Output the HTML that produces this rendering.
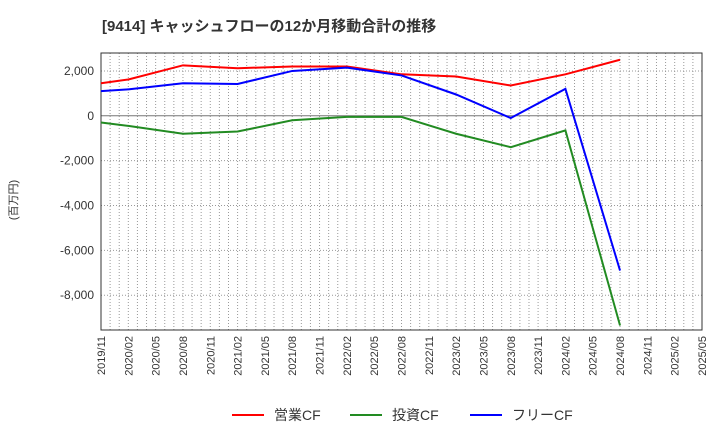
<!DOCTYPE html>
<html><head><meta charset="utf-8"><style>
body{margin:0;background:#fff;font-family:"Liberation Sans","Noto Sans CJK JP",sans-serif;}
svg text{font-family:"Liberation Sans","Noto Sans CJK JP",sans-serif;}
</style></head><body>
<svg id="c" width="720" height="440">
<text x="102" y="31" font-size="15" font-weight="bold" fill="#333">[9414]  キャッシュフローの12か月移動合計の推移</text>
<text transform="translate(17,200) rotate(-90)" text-anchor="middle" font-size="11" fill="#333">(百万円)</text>
</svg>
<script>
const xLabels=["2019/11","2020/02","2020/05","2020/08","2020/11","2021/02","2021/05","2021/08","2021/11","2022/02","2022/05","2022/08","2022/11","2023/02","2023/05","2023/08","2023/11","2024/02","2024/05","2024/08","2024/11","2025/02","2025/05"];
const yTicks=[2000,0,-2000,-4000,-6000,-8000];
const pointIdx=[0,1,3,5,7,9,11,13,15,17,19];
const opCF=[1450,1620,2250,2120,2200,2200,1850,1750,1350,1850,2500];
const invCF=[-300,-450,-800,-700,-200,-50,-50,-800,-1400,-650,-9350];
const freeCF=[1100,1180,1450,1420,2000,2150,1800,950,-100,1200,-6900];
const L=101,R=702,T=53,B=330,yMax=2800,yMin=-9550;
const svg=document.getElementById('c');const NS="http://www.w3.org/2000/svg";
function X(q){return L+(R-L)*q/(xLabels.length-1);}
function Y(v){return T+(B-T)*(yMax-v)/(yMax-yMin);}
function mk(t,a){const e=document.createElementNS(NS,t);for(const k in a)e.setAttribute(k,a[k]);svg.appendChild(e);return e;}
for(let m=1;m<66;m++){const x=L+(R-L)*m/66;
const g=mk('line',{x1:x,x2:x,y1:T,y2:B,stroke:'#999','stroke-dasharray':'1,2','stroke-width':1});

}
yTicks.forEach(v=>{const y=Y(v);
const g=mk('line',{x1:L,x2:R,y1:y,y2:y,stroke:v===0?'#777':'#999','stroke-dasharray':v===0?'none':'1,2'});


const t=mk('text',{x:L-7,y:y+4,'text-anchor':'end','font-size':12,fill:'#333'});t.textContent=v.toLocaleString('en-US');

});
const fr=mk('rect',{x:L,y:T,width:R-L,height:B-T,fill:'none',stroke:'#333'});


xLabels.forEach((s,i)=>{const x=X(i);const t=mk('text',{transform:`translate(${x+4},${B+6}) rotate(-90)`,'text-anchor':'end','font-size':11,fill:'#333'});t.textContent=s;

});
function series(d,c,n){const p=mk('polyline',{points:d.map((v,i)=>X(pointIdx[i])+','+Y(v)).join(' '),fill:'none',stroke:c,'stroke-width':2});

}
series(opCF,'#f00','operating-cf-line');series(invCF,'#228b22','investing-cf-line');series(freeCF,'#00f','free-cf-line');
[["営業CF","#f00",232],["投資CF","#228b22",350],["フリーCF","#00f",470]].forEach(([s,c,x])=>{
const l=mk('line',{x1:x,x2:x+32,y1:415,y2:415,stroke:c,'stroke-width':2});


const t=mk('text',{x:x+42,y:420,'font-size':14,fill:'#333'});t.textContent=s;

});
</script>
</body></html>
